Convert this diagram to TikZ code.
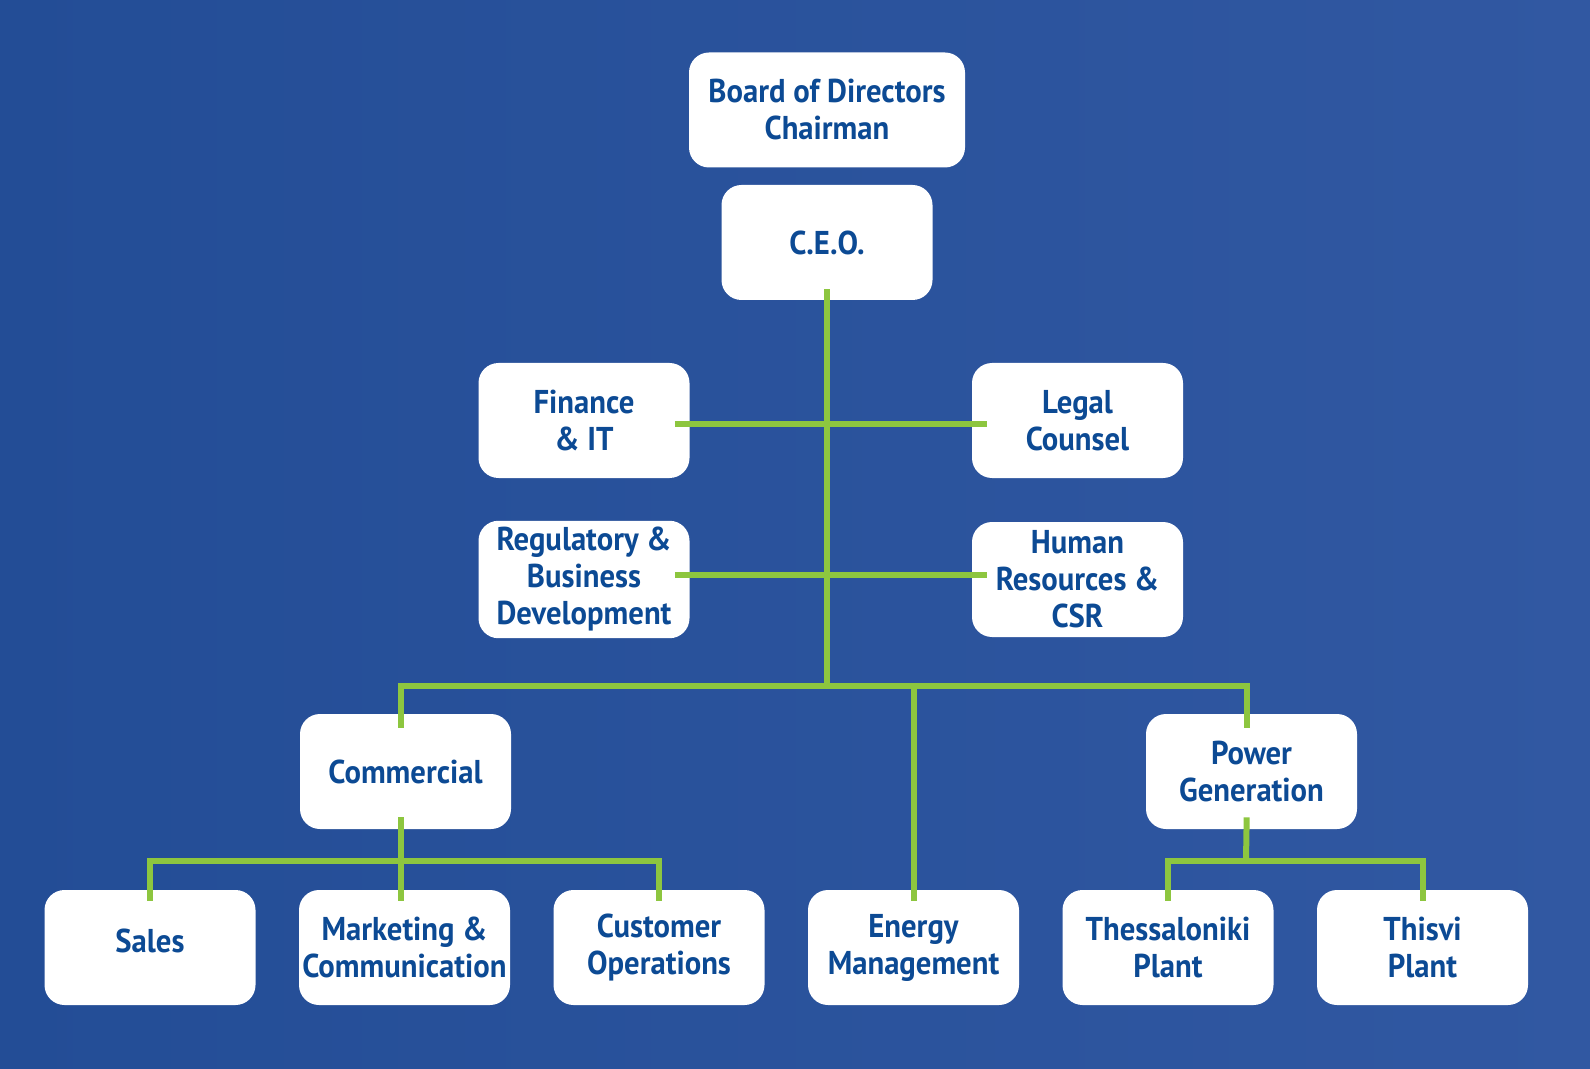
\documentclass[tikz,border=0pt]{standalone}
\usepackage{fontspec}
\setmainfont{PT Sans}[FakeStretch=0.93]
\usetikzlibrary{positioning, shadings}
\definecolor{bgleft}{HTML}{234D96}
\definecolor{bgright}{HTML}{3158A2}
\definecolor{boxtext}{HTML}{0C4A94}
\definecolor{linkgreen}{HTML}{8DC63F}
\tikzstyle{unit} = [rectangle, rounded corners=10pt, minimum width=105.5pt, minimum height=57.5pt, inner xsep=1pt, align=center, fill=white, text=boxtext, font=\fontsize{16.5}{18.5}\selectfont\bfseries]
\tikzstyle{link} = [draw=linkgreen, line width=3pt]

\begin{document}
\begin{tikzpicture}[x=0.5pt, y=-0.5pt, node distance=127.25pt]

    % Background
    \shade [left color=bgleft, right color=bgright] (0,0) rectangle (1590,1069);
    \useasboundingbox (0,0) rectangle (1590,1069);

    % Nodes
    \node (board) [unit, minimum width=138pt] at (827,110) {Board of Directors\\Chairman};
    \node (ceo) [unit] at (827,242.5) {C.E.O.};
    \node (fin) [unit] at (584,420.5) {Finance\\\& IT};
    \node (legal) [unit] at (1077.5,420.5) {Legal\\Counsel};
    \node (reg) [unit] at (584,579.5) {Regulatory \&\\Business\\Development};
    \node (hr) [unit] at (1077.5,579.5) {Human\\Resources \&\\CSR};
    \node (com) [unit] at (405.5,771.5) {Commercial};
    \node (pow) [unit] at (1251.5,771.5) {Power\\Generation};
    \node (sales) [unit, text depth=7pt] at (150,947.5) {Sales};
    \node (mark) [unit, right of=sales] {Marketing \&\\Communication};
    \node (cust) [unit, right of=mark] {Customer\\Operations};
    \node (energy) [unit, right of=cust] {Energy\\Management};
    \node (thes) [unit, right of=energy] {Thessaloniki\\Plant};
    \node (thisvi) [unit, right of=thes] {Thisvi\\Plant};

    \coordinate (bus) at (827,686);
    \coordinate (comsplit) at (401,861);
    \coordinate (powsplit) at (1246,861);

    % Links
    \draw [link, shorten <=-5.5pt] (ceo.south) -- (bus);
    \draw [link, shorten <=-7.5pt, shorten >=-7.5pt] ([yshift=-2pt]fin.east) -- ([yshift=-2pt]legal.west);
    \draw [link, shorten <=-7.5pt, shorten >=-7.5pt] ([yshift=2.5pt]reg.east) -- ([yshift=2.5pt]hr.west);
    \draw [link, shorten <=-7pt, shorten >=-7pt] ([xshift=-2.5pt]com.north) |- (bus) -| ([xshift=-2.5pt]pow.north);
    \draw [link, shorten >=-5.5pt] (energy.north |- bus) -- (energy.north);
    \draw [link, shorten <=-6pt, shorten >=-5.5pt] ([xshift=-2.5pt]com.south) -- ([xshift=-2pt]mark.north);
    \draw [link, shorten <=-5.5pt, shorten >=-5.5pt] (sales.north) |- (comsplit) -| (cust.north);
    \draw [link, shorten <=-6pt] ([xshift=-2.5pt]pow.south) -- (powsplit);
    \draw [link, shorten <=-5.5pt, shorten >=-5.5pt] (thes.north) |- (powsplit) -| (thisvi.north);

\end{tikzpicture}
\end{document}
